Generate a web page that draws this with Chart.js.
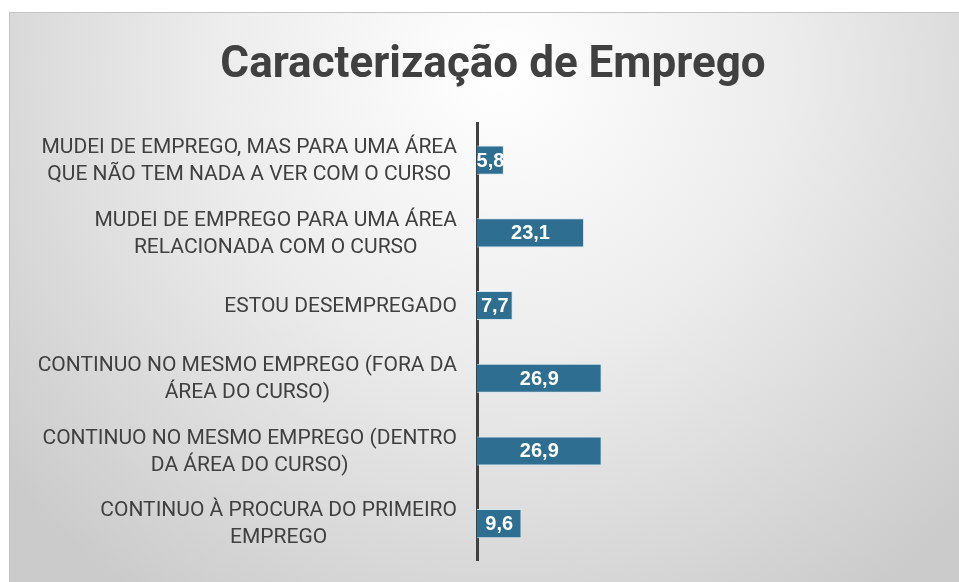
<!DOCTYPE html>
<html>
<head>
<meta charset="utf-8">
<script src="https://cdn.jsdelivr.net/npm/chart.js@4/dist/chart.umd.min.js"></script>
<style>
html,body{margin:0;padding:0;background:#fff;}
#wrap{width:959px;height:582px;position:relative;}
</style>
</head>
<body>
<div id="wrap"><canvas id="c"></canvas></div>
<script>
const chartTitle = 'Caracterização de Emprego';
const categories = [
  ['MUDEI DE EMPREGO, MAS PARA UMA ÁREA', 'QUE NÃO TEM NADA A VER COM O CURSO'],
  ['MUDEI DE EMPREGO PARA UMA ÁREA', 'RELACIONADA COM O CURSO'],
  ['ESTOU DESEMPREGADO'],
  ['CONTINUO NO MESMO EMPREGO (FORA DA', 'ÁREA DO CURSO)'],
  ['CONTINUO NO MESMO EMPREGO (DENTRO', 'DA ÁREA DO CURSO)'],
  ['CONTINUO À PROCURA DO PRIMEIRO', 'EMPREGO']
];
const values = [5.8, 23.1, 7.7, 26.9, 26.9, 9.6];
const valueLabels = ['5,8', '23,1', '7,7', '26,9', '26,9', '9,6'];

const bgPlugin = {
  id: 'bg',
  beforeDraw(chart) {
    const ctx = chart.ctx;
    ctx.save();
    const g = ctx.createRadialGradient(500, 70, 0, 500, 70, 640);
    g.addColorStop(0, '#ffffff');
    g.addColorStop(0.45, '#ececec');
    g.addColorStop(1, '#cbcbcb');
    ctx.fillStyle = g;
    ctx.fillRect(9, 12, 950, 570);
    ctx.strokeStyle = '#c4c4c4';
    ctx.lineWidth = 1;
    ctx.beginPath();
    ctx.moveTo(9.5, 582); ctx.lineTo(9.5, 12.5); ctx.lineTo(959, 12.5);
    ctx.stroke();
    ctx.restore();
  }
};

const labelPlugin = {
  id: 'catLabels',
  afterDraw(chart) {
    const ctx = chart.ctx;
    const ys = chart.scales.y;
    ctx.save();
    ctx.font = '21px Roboto, "Open Sans", sans-serif';
    ctx.fillStyle = '#404040';
    ctx.textAlign = 'center';
    ctx.textBaseline = 'middle';
    const right = ys.right - 20;
    categories.forEach((lines, i) => {
      const y = ys.getPixelForTick(i);
      let maxW = 0;
      lines.forEach(l => { maxW = Math.max(maxW, ctx.measureText(l).width); });
      const cx = right - maxW / 2;
      const lh = 27;
      lines.forEach((l, j) => {
        ctx.fillText(l, cx, y + (j - (lines.length - 1) / 2) * lh + 1);
      });
    });
    // value labels
    ctx.font = 'bold 20px "Liberation Sans", Arial, sans-serif';
    ctx.fillStyle = '#ffffff';
    const meta = chart.getDatasetMeta(0);
    meta.data.forEach((bar, i) => {
      const p = bar.getProps(['x', 'y', 'base'], true);
      ctx.fillText(valueLabels[i], (p.x + p.base) / 2, p.y + 1);
    });
    ctx.restore();
  }
};

new Chart(document.getElementById('c'), {
  type: 'bar',
  data: {
    labels: categories,
    datasets: [{
      data: values,
      backgroundColor: '#2e6e90',
      borderColor: '#d2e6f0',
      borderWidth: 1,
      borderSkipped: 'left',
      categoryPercentage: 1,
      barPercentage: 0.4
    }]
  },
  plugins: [bgPlugin, labelPlugin],
  options: {
    indexAxis: 'y',
    responsive: true,
    maintainAspectRatio: false,
    animation: false,
    layout: { padding: { left: 27, right: 0, top: 12, bottom: 22 } },
    plugins: {
      legend: { display: false },
      tooltip: { enabled: false },
      title: {
        display: true,
        text: chartTitle,
        color: '#404040',
        font: { family: 'Roboto', weight: 'bold', size: 44, lineHeight: 1.2 },
        padding: { top: 28, bottom: 31 }
      }
    },
    scales: {
      x: { display: false, min: 0, max: 104 },
      y: {
        display: true,
        grid: { display: false, drawTicks: false },
        border: { display: true, color: '#404040', width: 3 },
        ticks: { display: false },
        afterFit(scale) { scale.width = 450; }
      }
    }
  }
});
</script>
</body>
</html>
